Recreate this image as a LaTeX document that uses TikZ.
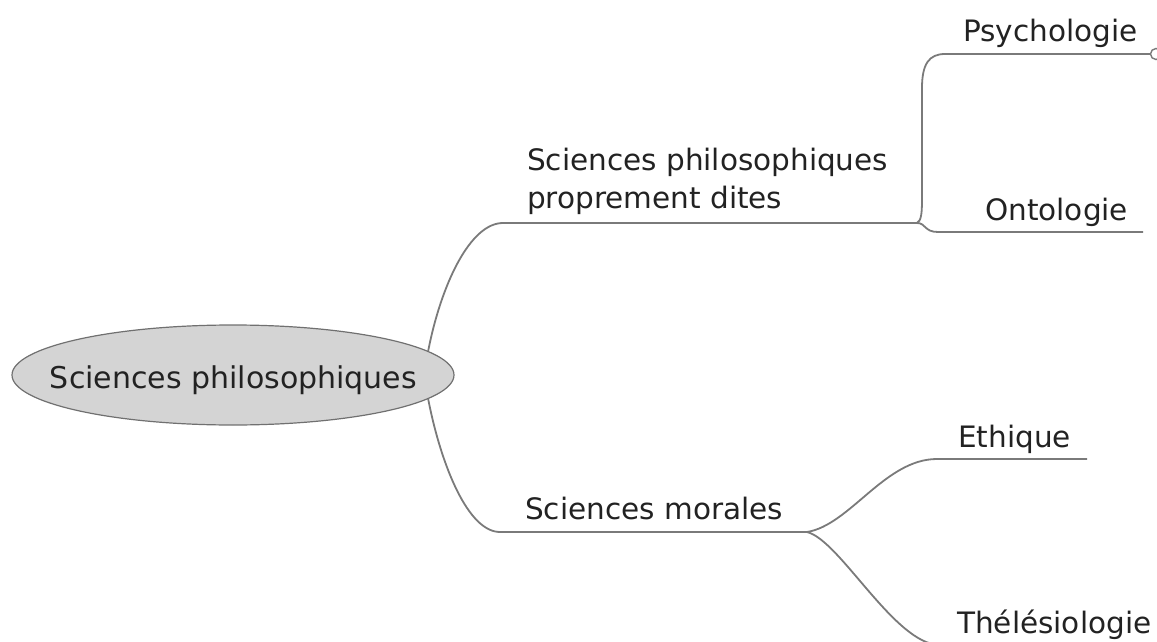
\documentclass[tikz,border=0pt]{standalone}
\usepackage{fontspec}
\setmainfont{DejaVu Sans}
\usetikzlibrary{shapes.geometric}
\definecolor{linec}{HTML}{7A7A7A}
\definecolor{txtc}{HTML}{222222}
\definecolor{ellfill}{HTML}{D4D4D4}
\definecolor{ellc}{HTML}{707070}
\begin{document}
\begin{tikzpicture}[x=1pt,y=-1pt,
  conn/.style={draw=linec,line width=1.8pt},
  lbl/.style={inner sep=0pt,anchor=base west,text=txtc,font=\fontsize{29.5}{38}\selectfont},
  rootshape/.style={ellipse,draw=ellc,line width=1.2pt,fill=ellfill,minimum width=442pt,minimum height=100pt,inner sep=0pt},
  roottext/.style={inner sep=0pt,anchor=base,text=txtc,font=\fontsize{30}{36}\selectfont},
  knob/.style={draw=linec,line width=1.4pt,fill=white,circle,inner sep=0pt,minimum size=11pt}]
\useasboundingbox (0,0) rectangle (1157,642);
\clip (0,0) rectangle (1157,642);

% nodes
\node[rootshape] (root) at (233,375) {};
\node[roottext] (roottxt) at (233.5,388) {Sciences philosophiques};
\node[lbl,align=left] (spd) at (527,208) {Sciences philosophiques\\proprement dites};
\node[lbl] (mor) at (525,519) {Sciences morales};
\node[lbl] (psy) at (963,42) {Psychologie};
\node[lbl] (onto) at (985,220) {Ontologie};
\node[lbl] (eth) at (958,447) {Ethique};
\node[lbl] (thel) at (957,633) {Thélésiologie};

% connector end points
\coordinate (spdL) at (503,223);
\coordinate (J1) at (917,223);
\coordinate (morL) at (500,532);
\coordinate (J2) at (807,532);
\coordinate (psyL) at (945,54);
\coordinate (psyR) at (1150,54);
\coordinate (ontoL) at (938,232);
\coordinate (ontoR) at (1143,232);
\coordinate (ethL) at (937,459);
\coordinate (ethR) at (1087,459);
\coordinate (thelL) at (940,645);
\coordinate (thelR) at (1160,645);

% connectors
\draw[conn] (root.7) .. controls (441,285) and (470,223) .. (spdL) -- (J1);
\draw[conn] (root.-7) .. controls (441,465) and (468,532) .. (morL) -- (J2);
\draw[conn] (J1) .. controls (921,221) and (922,214) .. (922,200) -- (922,88) .. controls (922,64) and (929,54) .. (psyL) -- (psyR);
\draw[conn] (J1) .. controls (926,223) and (924,232) .. (ontoL) -- (ontoR);
\draw[conn] (J2) .. controls (850,525) and (885,459) .. (ethL) -- (ethR);
\draw[conn] (J2) .. controls (840,540) and (895,645) .. (thelL) -- (thelR);
\node[knob] (psyknob) at (1156,54) {};
\end{tikzpicture}
\end{document}
